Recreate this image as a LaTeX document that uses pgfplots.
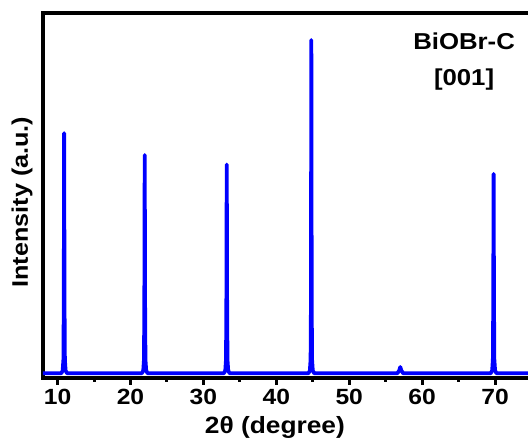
\documentclass[border=0pt]{standalone}
\usepackage{fontspec}
\setmainfont{Liberation Sans}[FakeStretch=1.12]
\usepackage{pgfplots}
\pgfplotsset{compat=1.18}
\definecolor{xrdblue}{RGB}{0,0,255}
\begin{document}
\begin{tikzpicture}
\begin{axis}[name=ax, scale only axis, width=525pt, height=365pt,
  xmin=8, xmax=80, ymin=0, ymax=100,
  axis line style={line width=3.5pt, black},
  xtick={10,20,...,70}, minor xtick={15,25,...,75},
  xtick pos=left, ytick=\empty, tick align=outside,
  major tick length=7pt, minor tick length=4pt,
  every tick/.style={line width=3pt, black},
  /pgf/number format/assume math mode=true,
  ticklabel style={font=\bfseries\fontsize{22}{22}\selectfont},
  xticklabel style={yshift=-1pt},
  xlabel={2θ (degree)}, ylabel={Intensity (a.u.)},
  label style={font=\bfseries\fontsize{23.5}{23.5}\selectfont},
  ylabel style={font=\bfseries\fontsize{22.5}{22.5}\selectfont},
  xlabel style={at={(axis description cs:0.4417,0)}, anchor=north, yshift=-35pt},
  ylabel style={at={(axis description cs:0,0.482)}, anchor=south, yshift=7pt},
]
\addplot[xrdblue, line width=3.8pt, line join=round] coordinates {
(8,1.3) (10.5,1.3) (10.7,2.0) (10.8,5) (10.85,20) (10.9,67.1) (10.95,20) (11.0,5) (11.1,2.0) (11.3,1.3)
(21.55,1.3) (21.75,2.0) (21.85,5) (21.9,20) (21.95,61.1) (22.0,20) (22.05,5) (22.15,2.0) (22.35,1.3)
(32.8,1.3) (33.0,2.0) (33.1,5) (33.15,20) (33.2,58.5) (33.25,20) (33.3,5) (33.4,2.0) (33.6,1.3)
(44.4,1.3) (44.6,2.0) (44.7,5) (44.75,20) (44.8,92.6) (44.85,20) (44.9,5) (45.0,2.0) (45.2,1.3)
(56.6,1.3) (56.85,2.0) (57.0,3.0) (57.15,2.0) (57.4,1.3)
(69.4,1.3) (69.6,2.0) (69.7,5) (69.75,20) (69.8,55.9) (69.85,20) (69.9,5) (70.0,2.0) (70.2,1.3)
(80,1.3)
};
\node[align=center, font=\bfseries\fontsize{23}{36}\selectfont] at (axis cs:65.75,86.8) {BiOBr-C\\{[001]}};
\end{axis}
\pgfresetboundingbox
\path (ax.south west) ++(-43pt,-65pt) rectangle ++(528pt,443pt);
\end{tikzpicture}
\end{document}
